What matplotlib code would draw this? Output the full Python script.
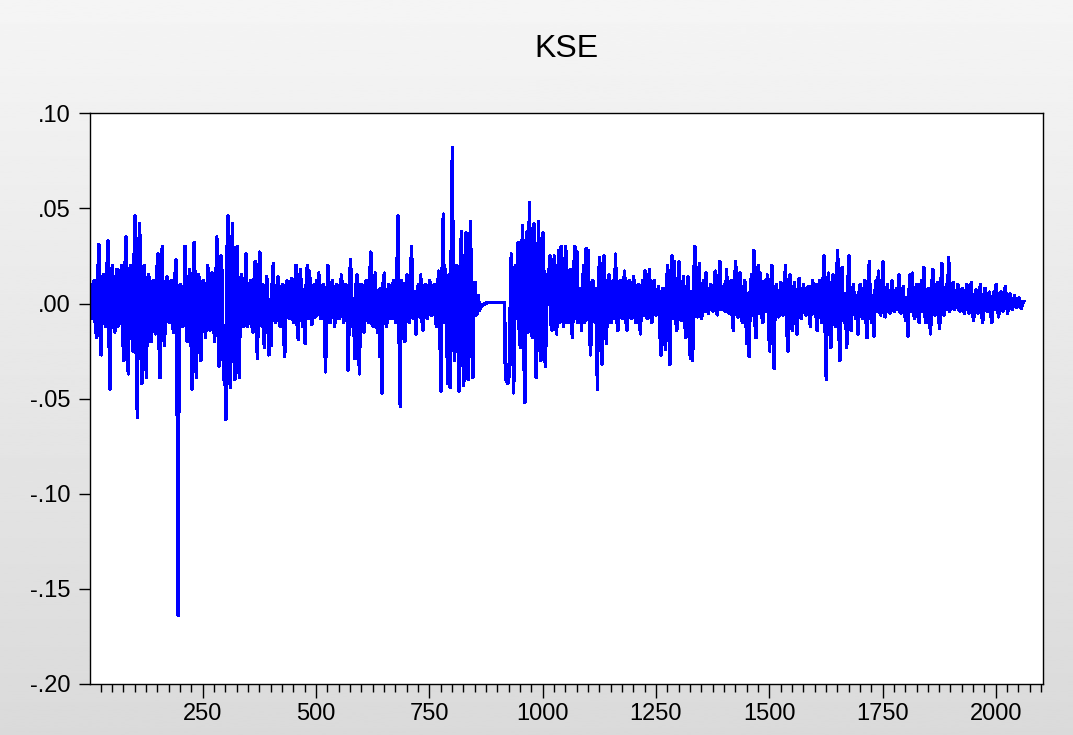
import numpy as np
import matplotlib.pyplot as plt
from matplotlib.ticker import MultipleLocator, FuncFormatter

plt.rcParams['font.family'] = ['Liberation Sans', 'DejaVu Sans']

# KSE returns at obs 1, 6, 11, ... (spikes / envelope)
kse_1 = [0.005, -0.008, 0.012, -0.018, 0.031, -0.027, 0.015, -0.012, 0.033, -0.045,
         0.02, -0.015, 0.018, -0.01, 0.02, -0.03, 0.035, -0.037, 0.02, -0.025,
         0.046, -0.06, 0.042, -0.042, 0.02, -0.039, 0.015, -0.02, 0.012, -0.016,
         0.026, -0.039, 0.03, -0.022, 0.014, -0.01, 0.012, -0.015, 0.023, -0.164,
         0.01, -0.012, 0.03, -0.02, 0.018, -0.045, 0.032, -0.039, 0.015, -0.03,
         0.012, -0.018, 0.02, -0.014, 0.016, -0.02, 0.035, -0.033, 0.025, -0.04,
         -0.061, 0.046, -0.044, 0.042, -0.04, 0.03, -0.039, 0.015, -0.012, 0.026,
         -0.01, 0.012, -0.015, 0.022, -0.029, 0.027, -0.012, -0.023, 0.014, -0.027]
kse_2 = [-0.022, 0.021, -0.01, 0.014, -0.012, 0.01, -0.028, 0.012, -0.008, 0.013,
         -0.01, 0.02, -0.019, 0.018, -0.012, -0.021, 0.02, 0.017, -0.011, 0.01,
         0.012, 0.016, -0.008, 0.01, -0.036, 0.02, -0.01, 0.012, -0.012, 0.01,
         -0.008, 0.015, -0.01, 0.01, -0.035, 0.023, -0.012, -0.029, 0.015, -0.037,
         0.01, -0.015, 0.012, -0.01, 0.027, -0.012, 0.016, -0.015, -0.028, -0.047,
         0.016, -0.012, 0.01, -0.008, 0.012, -0.01, 0.046, -0.054, 0.01, -0.02,
         0.015, -0.01, 0.03, -0.008, -0.016, 0.01, 0.015, -0.014, 0.01, -0.008,
         0.012, -0.006, 0.01, -0.012, 0.017, -0.046, 0.047, 0.018, -0.042, -0.044]
kse_3 = [0.082, -0.03, 0.02, -0.046, 0.038, -0.043, 0.037, -0.04, 0.043, -0.039,
         0.011, -0.005, -0.0035, -0.001, -0.0005, 0.0002, 0.0005, 0.0005, 0.0005, 0.0005,
         0.0005, 0.0005, 0.0005, 0.0005, -0.041, -0.038, 0.026, -0.047, 0.02, 0.032,
         -0.023, 0.041, -0.052, 0.038, 0.053, -0.016, 0.042, -0.039, 0.043, -0.03,
         0.037, -0.033, 0.015, 0.025, -0.014, 0.025, -0.016, 0.028, 0.03, -0.012,
         0.03, -0.01, 0.018, -0.018, 0.03, 0.027, -0.008, -0.014, 0.02, 0.029,
         0.028, -0.027, 0.012, -0.01, -0.045, 0.024, -0.032, 0.025, -0.021, 0.015,
         -0.01, 0.012, 0.026, -0.014, 0.012, -0.008, 0.017, -0.014, 0.012, -0.008]
kse_4 = [0.014, -0.01, 0.01, -0.016, 0.012, 0.017, -0.008, 0.018, -0.01, 0.012,
         -0.006, 0.009, -0.027, 0.008, -0.024, 0.02, -0.032, 0.025, 0.022, -0.014,
         0.022, -0.009, 0.014, -0.018, 0.014, -0.029, -0.03, 0.03, -0.007, 0.021,
         -0.008, 0.012, 0.016, -0.005, 0.01, -0.004, 0.017, -0.006, 0.022, -0.003,
         0.01, 0.018, -0.005, 0.012, -0.014, 0.022, -0.007, 0.016, -0.01, 0.012,
         -0.021, -0.028, 0.015, 0.028, -0.018, 0.02, 0.016, -0.01, 0.012, 0.015,
         -0.025, 0.02, -0.034, 0.01, -0.007, 0.011, -0.006, 0.02, -0.025, 0.015,
         -0.014, 0.011, -0.016, 0.013, -0.008, 0.01, -0.006, 0.009, -0.012, 0.012]
kse_5 = [0.01, -0.014, 0.012, -0.01, 0.025, -0.04, 0.016, -0.023, 0.015, -0.012,
         0.028, -0.03, 0.019, -0.01, -0.023, 0.025, -0.014, 0.01, -0.008, -0.016,
         0.01, -0.008, 0.012, -0.018, 0.022, -0.01, -0.017, 0.012, 0.017, -0.006,
         0.022, -0.007, 0.01, -0.005, 0.012, -0.004, 0.008, 0.015, -0.005, 0.009,
         -0.009, -0.017, 0.015, 0.016, -0.008, 0.01, -0.01, 0.012, 0.019, -0.01,
         0.008, -0.016, 0.018, -0.006, 0.011, -0.013, 0.021, -0.006, 0.01, 0.024,
         -0.002, 0.011, -0.002, 0.01, -0.004, 0.008, -0.005, 0.01, -0.005, 0.011,
         -0.009, 0.007, -0.005, 0.01, -0.01, 0.008, -0.004, 0.006, -0.01, 0.006,
         0.01, -0.007, 0.006, -0.004, 0.009, -0.005, 0.005, -0.003, 0.004, -0.002,
         0.003, -0.0025, 0.001]

# in-between observations (obs 3, 8, 13, ...), the dense core of the band
core_1 = [-0.006, 0.01, -0.01, 0.008, -0.012, 0.012, -0.009, 0.01, -0.014, 0.012,
          -0.01, 0.012, -0.012, 0.01, -0.012, 0.014, -0.015, 0.015, -0.012, 0.016,
          -0.02, 0.018, -0.015, 0.014, -0.016, 0.012, -0.01, 0.01, -0.012, 0.011,
          -0.014, 0.012, -0.013, 0.01, -0.008, 0.01, -0.01, 0.009, -0.012, 0.008,
          0.006, -0.008, 0.012, -0.01, 0.012, -0.014, 0.013, -0.012, 0.01, -0.012,
          0.01, -0.01, 0.009, -0.01, 0.01, -0.012, 0.014, -0.012, 0.012, -0.015,
          0.02, -0.018, 0.016, -0.02, 0.015, -0.016, 0.012, -0.01, 0.008, -0.012,
          0.009, -0.01, 0.01, -0.012, 0.012, -0.01, 0.01, -0.008, 0.01, -0.01]
core_2 = [0.008, -0.008, 0.006, -0.008, 0.007, -0.01, 0.008, -0.006, 0.007, -0.007,
          0.008, -0.009, 0.008, -0.006, 0.007, 0.008, -0.008, -0.006, 0.006, -0.007,
          -0.006, 0.005, -0.007, 0.008, -0.01, 0.008, -0.006, 0.007, -0.006, 0.006,
          -0.007, 0.008, -0.006, 0.007, -0.008, 0.01, -0.006, 0.009, -0.01, 0.01,
          -0.008, 0.008, -0.007, 0.009, -0.01, 0.008, -0.008, 0.007, 0.008, 0.01,
          -0.008, 0.006, -0.005, 0.006, -0.006, 0.007, -0.01, 0.012, -0.01, 0.008,
          -0.006, 0.008, -0.007, 0.006, 0.006, -0.007, -0.006, 0.007, -0.006, 0.006,
          -0.006, 0.007, -0.006, 0.008, -0.01, 0.012, -0.01, -0.012, 0.015, 0.018]
core_3 = [-0.015, 0.012, -0.012, 0.015, -0.015, 0.016, -0.015, 0.014, -0.012, 0.01,
          -0.006, 0.004, -0.002, -0.0008, 0.0, 0.0004, 0.0005, 0.0005, 0.0005, 0.0005,
          0.0005, 0.0005, 0.0005, -0.039, -0.042, -0.01, 0.012, -0.015, 0.014, -0.012,
          0.016, -0.018, 0.018, -0.015, 0.015, -0.018, 0.016, -0.015, 0.012, -0.012,
          0.012, -0.012, 0.01, -0.01, 0.012, -0.01, 0.012, -0.01, 0.008, 0.012,
          -0.01, 0.012, -0.01, 0.01, -0.008, -0.01, 0.008, 0.01, -0.01, -0.008,
          -0.01, 0.01, -0.008, 0.008, 0.01, -0.01, 0.01, -0.008, 0.008, -0.008,
          0.009, -0.008, -0.006, 0.008, -0.006, 0.007, -0.007, 0.006, -0.006, 0.006]
core_4 = [-0.006, 0.006, -0.007, 0.006, -0.006, -0.005, 0.007, -0.005, 0.006, -0.005,
          0.005, -0.008, 0.006, -0.008, 0.006, -0.008, 0.01, -0.008, -0.006, 0.006,
          -0.005, 0.006, -0.006, 0.006, -0.008, 0.006, 0.008, -0.004, 0.006, -0.005,
          0.005, -0.004, -0.003, 0.005, -0.003, 0.005, -0.004, 0.006, -0.003, 0.005,
          -0.004, -0.004, 0.005, -0.005, 0.006, -0.004, 0.005, -0.005, 0.005, -0.006,
          0.005, 0.006, -0.006, -0.008, 0.006, -0.005, -0.005, 0.004, -0.004, -0.006,
          0.006, -0.008, 0.006, -0.004, 0.004, -0.004, 0.005, -0.006, 0.006, -0.005,
          0.005, -0.005, 0.005, -0.004, 0.004, -0.004, 0.004, -0.004, 0.005, -0.005]
core_5 = [-0.005, 0.005, -0.005, 0.006, -0.008, 0.008, -0.006, 0.006, -0.005, 0.006,
          -0.008, 0.007, -0.005, 0.005, 0.006, -0.006, 0.005, -0.004, 0.004, 0.005,
          -0.004, 0.004, -0.006, 0.006, -0.005, 0.004, 0.005, -0.004, -0.004, 0.004,
          -0.004, 0.004, -0.004, 0.004, -0.003, 0.004, -0.003, -0.004, 0.004, -0.003,
          0.003, 0.004, -0.004, -0.004, 0.004, -0.004, 0.004, -0.004, -0.005, 0.004,
          -0.004, 0.005, -0.004, 0.004, -0.004, 0.005, -0.004, 0.003, -0.003, -0.004,
          0.003, -0.003, 0.003, -0.003, 0.003, -0.003, 0.003, -0.003, 0.003, -0.003,
          0.003, -0.003, 0.003, -0.003, 0.003, -0.003, 0.003, -0.003, 0.003, -0.003,
          0.002, -0.002, 0.002, -0.002, 0.002, -0.0015, 0.002, -0.0015, 0.0015, -0.0015,
          0.0015, -0.001]

peaks = np.array(kse_1 + kse_2 + kse_3 + kse_4 + kse_5)
core = np.array(core_1 + core_2 + core_3 + core_4 + core_5)
obs_peaks = 1 + 5 * np.arange(len(peaks))
obs_core = 3 + 5 * np.arange(len(core))

obs = np.concatenate([obs_peaks, obs_core])
kse = np.concatenate([peaks, core])
order = np.argsort(obs)
obs = obs[order]
kse = kse[order]

fig = plt.figure(figsize=(10.73, 7.35), dpi=100)

# grey gradient frame behind the plot, like the eviews graph
bg = fig.add_axes([0, 0, 1, 1], zorder=-1)
grad = np.linspace(0.96, 0.855, 256).reshape(-1, 1)
bg.imshow(grad, aspect='auto', cmap='gray', vmin=0, vmax=1, extent=[0, 1, 0, 1])
bg.axis('off')

ax = fig.add_axes([0.0837, 0.070, 0.8883, 0.7756])
ax.plot(obs, kse, color='#0000ff', lw=1.8, antialiased=False)
ax.set_facecolor('white')

ax.set_xlim(1, 2104)
ax.set_ylim(-0.2, 0.1)
ax.xaxis.set_major_locator(MultipleLocator(250))
ax.xaxis.set_minor_locator(MultipleLocator(25))
ax.yaxis.set_major_locator(MultipleLocator(0.05))

def fmt(v, pos):
    s = '%.2f' % v
    if s == '-0.00':
        s = '0.00'
    return s.replace('0.', '.', 1)

ax.yaxis.set_major_formatter(FuncFormatter(fmt))
ax.xaxis.set_major_formatter(FuncFormatter(lambda v, p: '%d' % v if v > 0 else ''))

ax.tick_params(axis='x', which='major', direction='out', length=10, width=1, pad=4, labelsize=17)
ax.tick_params(axis='x', which='minor', direction='out', length=6, width=1)
ax.tick_params(axis='y', direction='out', length=8, width=1, pad=6, labelsize=17)
for s in ax.spines.values():
    s.set_linewidth(1)
    s.set_color('black')

fig.text(0.528, 0.933, 'KSE', ha='center', va='center', fontsize=23)

plt.savefig('out.png', dpi=100)
